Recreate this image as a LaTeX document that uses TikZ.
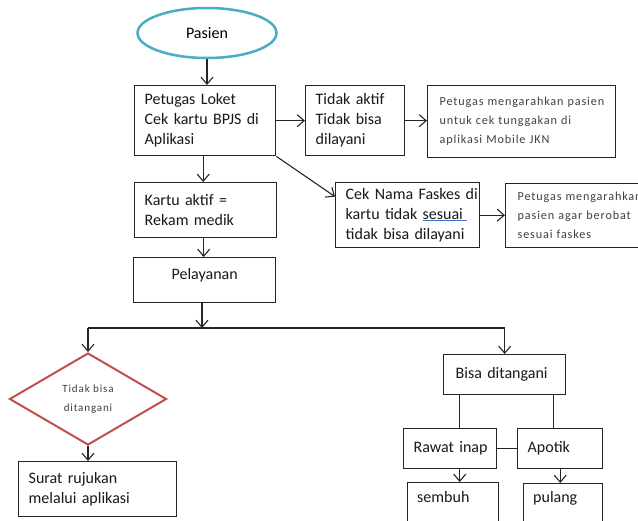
\documentclass[tikz,border=0pt]{standalone}
\usepackage{fontspec}
\setmainfont{Carlito}
\newfontfamily\smallfnt[LetterSpace=7]{Carlito}
\newfontfamily\tinyfnt[LetterSpace=8]{Carlito}
\usetikzlibrary{shapes.geometric,arrows.meta,calc}
\definecolor{ellblue}{HTML}{4BACC6}
\definecolor{diared}{HTML}{C0504D}
\definecolor{txtgray}{HTML}{404040}
\definecolor{wordblue}{HTML}{4472C4}
\newcommand{\lineof}[1]{\mbox{#1}}
\begin{document}
\begin{tikzpicture}[x=1pt,y=-1pt,
  box/.style={draw=black!85, line width=1.4pt, rectangle, inner xsep=10pt, inner ysep=0pt,
    align=left, anchor=north west, font=\fontsize{16}{20}\selectfont, text=black!90},
  smallbox/.style={box, font=\smallfnt\fontsize{12.2}{19}\selectfont, text=txtgray, inner xsep=12pt},
  conn/.style={draw=black!85, line width=1.1pt},
  arr/.style={conn, -{Straight Barb[length=7pt,width=12pt]}}]
\useasboundingbox (0,0) rectangle (638,521);
\clip (0,0) rectangle (638,521);
\fill[white] (0,0) rectangle (638,521);

\node[draw=ellblue, line width=2.5pt, ellipse, minimum width=139, minimum height=50,
  font=\fontsize{16}{20}\selectfont] (pasien) at (207,33) {Pasien};

\node[box, text width=121, minimum height=70] (loket) at (134,85)
  {\lineof{Petugas Loket}\\\lineof{Cek kartu BPJS di}\\\lineof{Aplikasi}};
\node[box, text width=79, minimum height=70] (aktif) at (305,85)
  {\lineof{Tidak aktif}\\\lineof{Tidak bisa}\\\lineof{dilayani}};
\node[smallbox, text width=164, minimum height=72] (jkn) at (427,85)
  {\lineof{Petugas mengarahkan pasien}\\\lineof{untuk cek tunggakan di}\\\lineof{aplikasi Mobile JKN}};
\node[box, text width=124, minimum height=65] (cek) at (335,182)
  {\lineof{Cek Nama Faskes di}\\\lineof{kartu tidak \makebox[0pt][l]{\color{wordblue}\rule[-2pt]{44pt}{1.3pt}}sesuai}\\\lineof{tidak bisa dilayani}};
\node[smallbox, text width=150, minimum height=64] (agar) at (505,183)
  {\lineof{Petugas mengarahkan}\\\lineof{pasien agar berobat}\\\lineof{sesuai faskes}};
\node[box, text width=122, minimum height=55] (kartu) at (134,182)
  {\lineof{Kartu aktif =}\\\lineof{Rekam medik}};
\node[box, text width=122, minimum height=45, align=center, text depth=12pt] (pelayanan) at (133,257)
  {Pelayanan};

\node[draw=diared, line width=2pt, diamond, aspect=1.7065, minimum width=157, minimum height=92,
  inner sep=0pt, align=center, text=txtgray, font=\tinyfnt\fontsize{11}{19}\selectfont]
  (tidak) at (88,399) {Tidak bisa\\ditangani};
\node[box, text width=138, minimum height=55] (surat) at (18,461)
  {\lineof{Surat rujukan}\\\lineof{melalui aplikasi}};

\node[box, text width=98, minimum height=40, inner xsep=12pt] (bisa) at (443,354) {\lineof{Bisa ditangani}};
\node[box, text width=73, minimum height=40] (rawat) at (403,428) {\lineof{Rawat inap}};
\node[box, text width=65, minimum height=40] (apotik) at (517,428) {\lineof{Apotik}};
\node[draw=black!85, line width=1.4pt, rectangle, anchor=north west, minimum width=91, minimum height=50] (sembuh) at (407,482) {};
\node[draw=black!85, line width=1.4pt, rectangle, anchor=north west, minimum width=79, minimum height=50] (pulang) at (523,483) {};
\node[anchor=west, inner sep=0pt, font=\fontsize{16}{20}\selectfont, text=black!90]
  (sembuhtxt) at ([xshift=10pt,yshift=-15pt]sembuh.north west) {sembuh};
\node[anchor=west, inner sep=0pt, font=\fontsize{16}{20}\selectfont, text=black!90]
  (pulangtxt) at ([xshift=10pt,yshift=-15pt]pulang.north west) {pulang};

\coordinate (split) at (202,328);

% connectors
\draw[arr] (pasien.south) -- (pasien.south |- loket.north);
\draw[arr] (loket.east) -- (aktif.west);
\draw[arr] (aktif.east) -- (jkn.west |- aktif.east);
\draw[arr] (loket.south east) -- ($(cek.north west)!0.22!(cek.south west)$);
\draw[arr] (cek.east) -- (agar.west |- cek.east);
\draw[arr] ([xshift=-2pt]loket.south) -- ([xshift=-2pt]loket.south |- kartu.north);
\draw[arr] ([xshift=-2pt]kartu.south) -- ([xshift=-2pt]kartu.south |- pelayanan.north);
\draw[arr] (split |- pelayanan.south) -- (split);
\draw[conn] (tidak.north |- split) -- (bisa.north |- split);
\draw[arr] (tidak.north |- split) -- (tidak.north);
\draw[arr] (bisa.north |- split) -- (bisa.north);
\draw[arr] (tidak.south) -- (tidak.south |- surat.north);
\draw[conn] ([xshift=-45pt]bisa.south) -- ([xshift=-45pt]bisa.south |- rawat.north);
\draw[conn] ([xshift=49pt]bisa.south) -- ([xshift=49pt]bisa.south |- apotik.north);
\draw[conn] (rawat.east) -- (apotik.west);
\draw[arr] ([xshift=9.5pt]rawat.south) -- ([xshift=9.5pt]rawat.south |- sembuh.north);
\draw[arr] (apotik.south) -- (apotik.south |- pulang.north);
\end{tikzpicture}
\end{document}
